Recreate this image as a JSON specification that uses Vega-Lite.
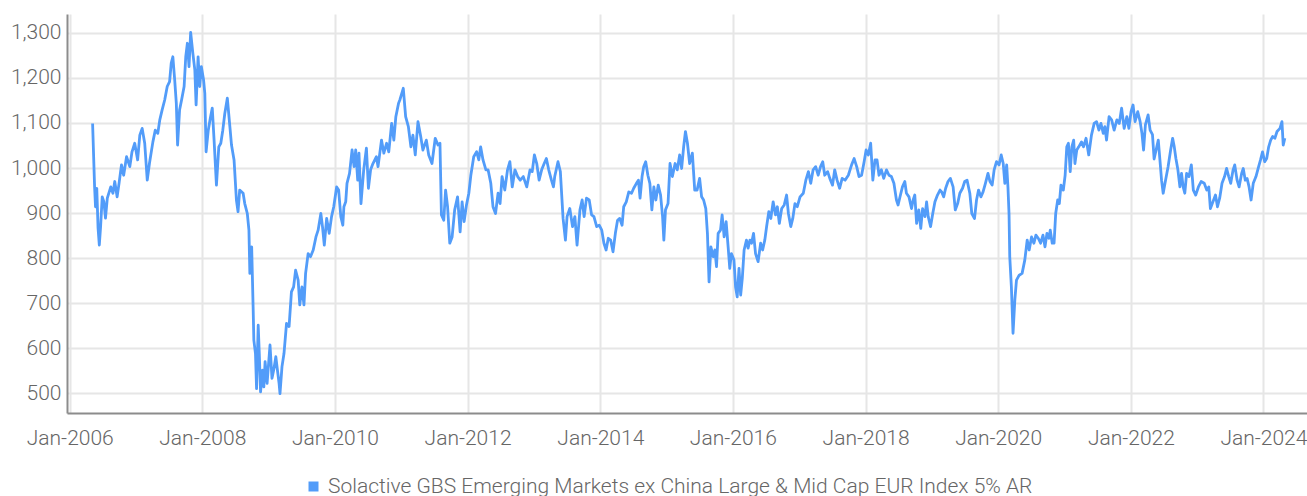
{
"$schema": "https://vega.github.io/schema/vega-lite/v6.json",
"width": 1240, "height": 399,
"autosize": {"type": "none"},
"padding": {"left": 67, "top": 14, "right": 0, "bottom": 83},
"background": "white",
"config": {"view": {"stroke": null}, "font": "Roboto"},
"data": {"values": [
{"date":"2006-05-07","value":1099},{"date":"2006-05-18","value":958},{"date":"2006-05-23","value":914},{"date":"2006-05-30","value":955},{"date":"2006-06-06","value":867},{"date":"2006-06-13","value":829},{"date":"2006-06-20","value":870},{"date":"2006-06-29","value":936},{"date":"2006-07-08","value":925},{"date":"2006-07-17","value":889},{"date":"2006-07-27","value":933},{"date":"2006-08-15","value":958},{"date":"2006-08-27","value":944},{"date":"2006-09-06","value":970},{"date":"2006-09-19","value":936},{"date":"2006-09-30","value":967},{"date":"2006-10-13","value":1007},{"date":"2006-10-25","value":984},{"date":"2006-11-10","value":1025},{"date":"2006-11-28","value":1003},{"date":"2006-12-10","value":1036},{"date":"2006-12-25","value":1055},
{"date":"2007-01-10","value":1018},{"date":"2007-01-22","value":1073},{"date":"2007-02-04","value":1088},{"date":"2007-02-18","value":1055},{"date":"2007-03-04","value":973},{"date":"2007-03-16","value":1010},{"date":"2007-04-04","value":1058},{"date":"2007-04-17","value":1084},{"date":"2007-05-01","value":1077},{"date":"2007-05-12","value":1107},{"date":"2007-05-25","value":1129},{"date":"2007-06-08","value":1151},{"date":"2007-06-22","value":1181},{"date":"2007-07-05","value":1192},{"date":"2007-07-14","value":1233},{"date":"2007-07-23","value":1247},{"date":"2007-08-02","value":1196},{"date":"2007-08-11","value":1144},{"date":"2007-08-18","value":1051},{"date":"2007-08-29","value":1129},{"date":"2007-09-09","value":1151},{"date":"2007-09-23","value":1181},{"date":"2007-10-02","value":1247},{"date":"2007-10-11","value":1277},{"date":"2007-10-20","value":1225},{"date":"2007-10-29","value":1301},{"date":"2007-11-10","value":1255},{"date":"2007-11-21","value":1218},{"date":"2007-11-28","value":1140},{"date":"2007-12-09","value":1247},{"date":"2007-12-18","value":1181},{"date":"2007-12-27","value":1225},
{"date":"2008-01-08","value":1196},{"date":"2008-01-15","value":1166},{"date":"2008-01-22","value":1036},{"date":"2008-02-03","value":1084},{"date":"2008-02-14","value":1110},{"date":"2008-02-25","value":1133},{"date":"2008-03-06","value":1062},{"date":"2008-03-19","value":962},{"date":"2008-04-01","value":1047},{"date":"2008-04-12","value":1055},{"date":"2008-04-23","value":1084},{"date":"2008-05-04","value":1121},{"date":"2008-05-18","value":1155},{"date":"2008-06-01","value":1092},{"date":"2008-06-10","value":1051},{"date":"2008-06-24","value":1018},{"date":"2008-07-07","value":929},{"date":"2008-07-16","value":903},{"date":"2008-07-25","value":951},{"date":"2008-08-13","value":944},{"date":"2008-08-22","value":921},{"date":"2008-09-05","value":899},{"date":"2008-09-14","value":862},{"date":"2008-09-19","value":766},{"date":"2008-09-29","value":825},{"date":"2008-10-07","value":692},{"date":"2008-10-11","value":618},{"date":"2008-10-20","value":588},{"date":"2008-10-26","value":510},{"date":"2008-11-04","value":651},{"date":"2008-11-10","value":588},{"date":"2008-11-17","value":503},{"date":"2008-11-28","value":551},{"date":"2008-12-05","value":514},{"date":"2008-12-12","value":570},{"date":"2008-12-23","value":522},
{"date":"2009-01-08","value":607},{"date":"2009-01-19","value":533},{"date":"2009-01-30","value":555},{"date":"2009-02-09","value":581},{"date":"2009-02-18","value":551},{"date":"2009-02-27","value":522},{"date":"2009-03-04","value":499},{"date":"2009-03-15","value":559},{"date":"2009-03-26","value":588},{"date":"2009-04-09","value":655},{"date":"2009-04-23","value":648},{"date":"2009-05-06","value":725},{"date":"2009-05-18","value":736},{"date":"2009-05-29","value":773},{"date":"2009-06-12","value":751},{"date":"2009-06-21","value":696},{"date":"2009-07-03","value":736},{"date":"2009-07-14","value":696},{"date":"2009-07-23","value":766},{"date":"2009-08-06","value":810},{"date":"2009-08-19","value":803},{"date":"2009-09-03","value":818},{"date":"2009-09-18","value":847},{"date":"2009-09-30","value":862},{"date":"2009-10-15","value":899},{"date":"2009-10-24","value":870},{"date":"2009-11-03","value":829},{"date":"2009-11-16","value":888},{"date":"2009-11-30","value":855},{"date":"2009-12-13","value":892},{"date":"2009-12-25","value":914},
{"date":"2010-01-10","value":958},{"date":"2010-01-21","value":951},{"date":"2010-02-02","value":892},{"date":"2010-02-13","value":873},{"date":"2010-02-19","value":914},{"date":"2010-03-01","value":925},{"date":"2010-03-08","value":966},{"date":"2010-03-22","value":988},{"date":"2010-04-05","value":1040},{"date":"2010-04-16","value":1003},{"date":"2010-04-25","value":1040},{"date":"2010-05-06","value":973},{"date":"2010-05-13","value":1033},{"date":"2010-05-24","value":921},{"date":"2010-06-08","value":996},{"date":"2010-06-23","value":1044},{"date":"2010-07-04","value":955},{"date":"2010-07-16","value":996},{"date":"2010-07-29","value":1010},{"date":"2010-08-17","value":1025},{"date":"2010-08-26","value":1003},{"date":"2010-09-14","value":1062},{"date":"2010-09-27","value":1033},{"date":"2010-10-12","value":1055},{"date":"2010-10-24","value":1036},{"date":"2010-11-09","value":1099},{"date":"2010-11-21","value":1062},{"date":"2010-12-02","value":1114},{"date":"2010-12-17","value":1144},{"date":"2010-12-24","value":1151},
{"date":"2011-01-12","value":1177},{"date":"2011-01-25","value":1114},{"date":"2011-02-09","value":1092},{"date":"2011-02-23","value":1047},{"date":"2011-03-06","value":1073},{"date":"2011-03-19","value":1029},{"date":"2011-04-03","value":1103},{"date":"2011-04-18","value":1070},{"date":"2011-04-30","value":1040},{"date":"2011-05-19","value":1062},{"date":"2011-06-01","value":1029},{"date":"2011-06-19","value":1010},{"date":"2011-07-07","value":1066},{"date":"2011-07-22","value":1051},{"date":"2011-08-02","value":1055},{"date":"2011-08-10","value":896},{"date":"2011-08-23","value":884},{"date":"2011-09-02","value":951},{"date":"2011-09-13","value":914},{"date":"2011-09-25","value":833},{"date":"2011-10-08","value":847},{"date":"2011-10-22","value":907},{"date":"2011-11-07","value":936},{"date":"2011-11-21","value":858},{"date":"2011-12-02","value":925},{"date":"2011-12-13","value":881},{"date":"2011-12-26","value":918},
{"date":"2012-01-08","value":944},{"date":"2012-01-19","value":984},{"date":"2012-02-04","value":1025},{"date":"2012-02-20","value":1036},{"date":"2012-03-03","value":1018},{"date":"2012-03-13","value":1047},{"date":"2012-03-26","value":1018},{"date":"2012-04-11","value":996},{"date":"2012-04-23","value":996},{"date":"2012-05-08","value":966},{"date":"2012-05-20","value":914},{"date":"2012-06-03","value":899},{"date":"2012-06-17","value":944},{"date":"2012-06-28","value":921},{"date":"2012-07-09","value":981},{"date":"2012-07-24","value":951},{"date":"2012-08-08","value":996},{"date":"2012-08-21","value":1014},{"date":"2012-09-03","value":958},{"date":"2012-09-18","value":996},{"date":"2012-10-03","value":981},{"date":"2012-10-17","value":973},{"date":"2012-11-03","value":981},{"date":"2012-11-22","value":958},{"date":"2012-12-10","value":996},{"date":"2012-12-22","value":992},
{"date":"2013-01-03","value":1029},{"date":"2013-01-16","value":1010},{"date":"2013-01-29","value":973},{"date":"2013-02-12","value":996},{"date":"2013-02-26","value":1010},{"date":"2013-03-10","value":1021},{"date":"2013-03-23","value":996},{"date":"2013-04-07","value":973},{"date":"2013-04-18","value":958},{"date":"2013-04-25","value":981},{"date":"2013-05-13","value":1014},{"date":"2013-05-26","value":992},{"date":"2013-06-10","value":888},{"date":"2013-06-23","value":840},{"date":"2013-07-02","value":892},{"date":"2013-07-17","value":910},{"date":"2013-08-01","value":870},{"date":"2013-08-14","value":892},{"date":"2013-08-26","value":829},{"date":"2013-09-11","value":907},{"date":"2013-09-23","value":929},{"date":"2013-10-04","value":892},{"date":"2013-10-17","value":933},{"date":"2013-11-01","value":929},{"date":"2013-11-14","value":896},{"date":"2013-11-27","value":892},{"date":"2013-12-12","value":870},{"date":"2013-12-26","value":873},
{"date":"2014-01-09","value":862},{"date":"2014-01-21","value":833},{"date":"2014-02-02","value":818},{"date":"2014-02-14","value":844},{"date":"2014-02-27","value":840},{"date":"2014-03-12","value":814},{"date":"2014-03-25","value":855},{"date":"2014-04-06","value":884},{"date":"2014-04-18","value":888},{"date":"2014-05-01","value":873},{"date":"2014-05-10","value":914},{"date":"2014-05-24","value":925},{"date":"2014-06-07","value":947},{"date":"2014-06-22","value":944},{"date":"2014-07-04","value":955},{"date":"2014-07-19","value":966},{"date":"2014-07-30","value":973},{"date":"2014-08-08","value":933},{"date":"2014-08-19","value":981},{"date":"2014-08-28","value":1003},{"date":"2014-09-08","value":1014},{"date":"2014-09-20","value":984},{"date":"2014-10-01","value":966},{"date":"2014-10-12","value":907},{"date":"2014-10-23","value":958},{"date":"2014-11-03","value":929},{"date":"2014-11-16","value":962},{"date":"2014-11-29","value":940},{"date":"2014-12-10","value":892},{"date":"2014-12-17","value":840},{"date":"2014-12-26","value":907},
{"date":"2015-01-09","value":921},{"date":"2015-01-20","value":1010},{"date":"2015-02-02","value":981},{"date":"2015-02-17","value":1010},{"date":"2015-03-01","value":996},{"date":"2015-03-14","value":1029},{"date":"2015-03-25","value":999},{"date":"2015-04-05","value":1047},{"date":"2015-04-15","value":1081},{"date":"2015-04-26","value":1055},{"date":"2015-05-08","value":1010},{"date":"2015-05-23","value":1033},{"date":"2015-06-05","value":951},{"date":"2015-06-18","value":951},{"date":"2015-07-02","value":977},{"date":"2015-07-13","value":936},{"date":"2015-07-24","value":929},{"date":"2015-08-05","value":910},{"date":"2015-08-14","value":855},{"date":"2015-08-23","value":747},{"date":"2015-09-02","value":825},{"date":"2015-09-15","value":803},{"date":"2015-09-24","value":818},{"date":"2015-10-03","value":781},{"date":"2015-10-12","value":855},{"date":"2015-10-25","value":862},{"date":"2015-11-03","value":896},{"date":"2015-11-14","value":847},{"date":"2015-11-25","value":881},{"date":"2015-12-06","value":825},{"date":"2015-12-15","value":777},{"date":"2015-12-24","value":810},
{"date":"2016-01-07","value":796},{"date":"2016-01-16","value":736},{"date":"2016-01-25","value":714},{"date":"2016-02-04","value":777},{"date":"2016-02-13","value":718},{"date":"2016-02-22","value":755},{"date":"2016-03-03","value":818},{"date":"2016-03-16","value":840},{"date":"2016-03-25","value":822},{"date":"2016-04-04","value":840},{"date":"2016-04-13","value":833},{"date":"2016-04-24","value":855},{"date":"2016-05-05","value":810},{"date":"2016-05-19","value":792},{"date":"2016-06-02","value":833},{"date":"2016-06-13","value":818},{"date":"2016-06-25","value":840},{"date":"2016-07-05","value":870},{"date":"2016-07-17","value":903},{"date":"2016-07-28","value":888},{"date":"2016-08-10","value":925},{"date":"2016-08-23","value":896},{"date":"2016-09-02","value":914},{"date":"2016-09-13","value":877},{"date":"2016-09-26","value":910},{"date":"2016-10-10","value":918},{"date":"2016-10-23","value":940},{"date":"2016-11-02","value":899},{"date":"2016-11-15","value":870},{"date":"2016-11-26","value":888},{"date":"2016-12-08","value":921},{"date":"2016-12-21","value":914},
{"date":"2017-01-05","value":936},{"date":"2017-01-23","value":944},{"date":"2017-02-06","value":973},{"date":"2017-02-20","value":992},{"date":"2017-03-05","value":966},{"date":"2017-03-18","value":996},{"date":"2017-04-01","value":1003},{"date":"2017-04-15","value":984},{"date":"2017-04-28","value":1003},{"date":"2017-05-10","value":1014},{"date":"2017-05-21","value":984},{"date":"2017-06-06","value":992},{"date":"2017-06-18","value":977},{"date":"2017-07-03","value":962},{"date":"2017-07-15","value":996},{"date":"2017-07-28","value":973},{"date":"2017-08-11","value":955},{"date":"2017-08-25","value":977},{"date":"2017-09-10","value":973},{"date":"2017-09-28","value":984},{"date":"2017-10-16","value":1007},{"date":"2017-10-30","value":1021},{"date":"2017-11-13","value":1003},{"date":"2017-11-26","value":981},{"date":"2017-12-10","value":984},{"date":"2017-12-24","value":1014},
{"date":"2018-01-04","value":1040},{"date":"2018-01-16","value":1029},{"date":"2018-01-29","value":1055},{"date":"2018-02-10","value":973},{"date":"2018-02-22","value":1018},{"date":"2018-03-05","value":1018},{"date":"2018-03-16","value":984},{"date":"2018-03-29","value":996},{"date":"2018-04-11","value":977},{"date":"2018-04-26","value":996},{"date":"2018-05-10","value":984},{"date":"2018-05-23","value":981},{"date":"2018-06-06","value":966},{"date":"2018-06-20","value":929},{"date":"2018-06-29","value":918},{"date":"2018-07-12","value":940},{"date":"2018-07-23","value":958},{"date":"2018-08-05","value":970},{"date":"2018-08-14","value":944},{"date":"2018-08-28","value":936},{"date":"2018-09-11","value":910},{"date":"2018-09-20","value":929},{"date":"2018-09-29","value":940},{"date":"2018-10-09","value":877},{"date":"2018-10-21","value":907},{"date":"2018-11-01","value":866},{"date":"2018-11-11","value":910},{"date":"2018-11-24","value":892},{"date":"2018-12-03","value":925},{"date":"2018-12-12","value":892},{"date":"2018-12-25","value":870},
{"date":"2019-01-06","value":899},{"date":"2019-01-18","value":925},{"date":"2019-02-01","value":940},{"date":"2019-02-15","value":951},{"date":"2019-02-24","value":947},{"date":"2019-03-07","value":936},{"date":"2019-03-18","value":955},{"date":"2019-03-31","value":970},{"date":"2019-04-13","value":977},{"date":"2019-04-28","value":958},{"date":"2019-05-10","value":907},{"date":"2019-05-23","value":921},{"date":"2019-06-04","value":944},{"date":"2019-06-19","value":955},{"date":"2019-07-01","value":970},{"date":"2019-07-14","value":973},{"date":"2019-07-29","value":944},{"date":"2019-08-09","value":899},{"date":"2019-08-24","value":888},{"date":"2019-09-04","value":929},{"date":"2019-09-15","value":951},{"date":"2019-09-28","value":936},{"date":"2019-10-10","value":947},{"date":"2019-10-23","value":966},{"date":"2019-11-06","value":988},{"date":"2019-11-17","value":970},{"date":"2019-11-29","value":962},{"date":"2019-12-10","value":996},{"date":"2019-12-23","value":1014},
{"date":"2020-01-06","value":1007},{"date":"2020-01-18","value":1029},{"date":"2020-01-29","value":1010},{"date":"2020-02-07","value":966},{"date":"2020-02-17","value":1007},{"date":"2020-02-24","value":958},{"date":"2020-03-01","value":899},{"date":"2020-03-05","value":803},{"date":"2020-03-14","value":736},{"date":"2020-03-23","value":633},{"date":"2020-04-02","value":707},{"date":"2020-04-11","value":751},{"date":"2020-04-26","value":762},{"date":"2020-05-12","value":766},{"date":"2020-05-27","value":796},{"date":"2020-06-09","value":840},{"date":"2020-06-20","value":818},{"date":"2020-07-03","value":847},{"date":"2020-07-16","value":833},{"date":"2020-07-27","value":851},{"date":"2020-08-09","value":844},{"date":"2020-08-22","value":833},{"date":"2020-09-04","value":851},{"date":"2020-09-15","value":825},{"date":"2020-09-26","value":855},{"date":"2020-10-07","value":844},{"date":"2020-10-14","value":862},{"date":"2020-10-25","value":833},{"date":"2020-11-04","value":833},{"date":"2020-11-13","value":899},{"date":"2020-11-24","value":929},{"date":"2020-12-03","value":921},{"date":"2020-12-12","value":962},{"date":"2020-12-25","value":951},
{"date":"2021-01-04","value":984},{"date":"2021-01-13","value":1047},{"date":"2021-01-22","value":1055},{"date":"2021-02-01","value":992},{"date":"2021-02-10","value":1047},{"date":"2021-02-20","value":1062},{"date":"2021-02-27","value":1010},{"date":"2021-03-09","value":1040},{"date":"2021-03-20","value":1047},{"date":"2021-04-04","value":1058},{"date":"2021-04-15","value":1047},{"date":"2021-04-29","value":1066},{"date":"2021-05-14","value":1029},{"date":"2021-05-29","value":1073},{"date":"2021-06-13","value":1099},{"date":"2021-06-26","value":1103},{"date":"2021-07-09","value":1084},{"date":"2021-07-20","value":1099},{"date":"2021-08-02","value":1077},{"date":"2021-08-11","value":1092},{"date":"2021-08-20","value":1062},{"date":"2021-09-03","value":1114},{"date":"2021-09-17","value":1107},{"date":"2021-10-01","value":1084},{"date":"2021-10-16","value":1107},{"date":"2021-10-29","value":1099},{"date":"2021-11-11","value":1133},{"date":"2021-11-25","value":1088},{"date":"2021-12-10","value":1114},{"date":"2021-12-21","value":1088},
{"date":"2022-01-02","value":1125},{"date":"2022-01-13","value":1140},{"date":"2022-01-24","value":1103},{"date":"2022-02-08","value":1125},{"date":"2022-02-21","value":1103},{"date":"2022-03-03","value":1077},{"date":"2022-03-12","value":1040},{"date":"2022-03-22","value":1096},{"date":"2022-04-06","value":1118},{"date":"2022-04-17","value":1084},{"date":"2022-04-30","value":1074},{"date":"2022-05-09","value":1020},{"date":"2022-05-22","value":1044},{"date":"2022-06-01","value":1062},{"date":"2022-06-10","value":1018},{"date":"2022-06-19","value":973},{"date":"2022-06-28","value":944},{"date":"2022-07-11","value":973},{"date":"2022-07-25","value":1003},{"date":"2022-08-08","value":1040},{"date":"2022-08-19","value":1066},{"date":"2022-08-28","value":1047},{"date":"2022-09-06","value":1021},{"date":"2022-09-17","value":996},{"date":"2022-09-28","value":958},{"date":"2022-10-07","value":988},{"date":"2022-10-16","value":958},{"date":"2022-10-25","value":944},{"date":"2022-11-04","value":988},{"date":"2022-11-17","value":981},{"date":"2022-11-30","value":1007},{"date":"2022-12-11","value":951},{"date":"2022-12-24","value":940},
{"date":"2023-01-08","value":958},{"date":"2023-01-23","value":970},{"date":"2023-02-09","value":966},{"date":"2023-02-23","value":951},{"date":"2023-03-06","value":958},{"date":"2023-03-15","value":910},{"date":"2023-03-29","value":925},{"date":"2023-04-12","value":940},{"date":"2023-04-23","value":914},{"date":"2023-05-05","value":933},{"date":"2023-05-18","value":966},{"date":"2023-06-01","value":981},{"date":"2023-06-12","value":999},{"date":"2023-06-24","value":981},{"date":"2023-07-05","value":966},{"date":"2023-07-18","value":996},{"date":"2023-07-27","value":1007},{"date":"2023-08-09","value":973},{"date":"2023-08-20","value":958},{"date":"2023-09-03","value":988},{"date":"2023-09-12","value":999},{"date":"2023-09-23","value":973},{"date":"2023-10-03","value":977},{"date":"2023-10-14","value":958},{"date":"2023-10-25","value":929},{"date":"2023-11-06","value":966},{"date":"2023-11-21","value":981},{"date":"2023-12-03","value":999},{"date":"2023-12-16","value":1018},{"date":"2023-12-27","value":1036},
{"date":"2024-01-08","value":1014},{"date":"2024-01-19","value":1021},{"date":"2024-01-30","value":1047},{"date":"2024-02-10","value":1062},{"date":"2024-02-21","value":1070},{"date":"2024-03-04","value":1066},{"date":"2024-03-16","value":1081},{"date":"2024-04-01","value":1088},{"date":"2024-04-12","value":1103},{"date":"2024-04-19","value":1051},{"date":"2024-04-28","value":1066}
]},
"mark": {"type": "line", "strokeWidth": 2.8, "strokeJoin": "round"},
"encoding": {
  "x": {"field": "date", "type": "temporal",
        "scale": {"type": "utc", "domain": ["2005-12-17", "2024-08-28"]},
        "axis": {"title": null, "format": "%b-%Y", "tickCount": {"interval": "year", "step": 2},
                 "grid": true, "gridColor": "#e6e6e6", "gridWidth": 2,
                 "domainColor": "#8c8c8c", "domainWidth": 2, "ticks": false,
                 "labelPadding": 14, "labelFontSize": 21, "labelColor": "#666666",
                 "labelFont": "Roboto", "labelFontWeight": 300, "labelFlush": false, "labelOverlap": false}},
  "y": {"field": "value", "type": "quantitative",
        "scale": {"domain": [456, 1342], "nice": false, "zero": false},
        "axis": {"title": null, "values": [500, 600, 700, 800, 900, 1000, 1100, 1200, 1300], "format": ",.0f",
                 "grid": true, "gridColor": "#e6e6e6", "gridWidth": 2,
                 "domainColor": "#8c8c8c", "domainWidth": 2, "ticks": false,
                 "labelPadding": 6, "labelFontSize": 21, "labelColor": "#666666",
                 "labelFont": "Roboto", "labelFontWeight": 300}},
  "color": {"datum": "Solactive GBS Emerging Markets ex China Large & Mid Cap EUR Index 5% AR",
            "scale": {"range": ["#529cf9"]},
            "legend": {"title": null, "orient": "none", "legendX": 236, "legendY": 462,
                       "symbolType": "square", "symbolSize": 100, "labelFontSize": 21,
                       "labelColor": "#666666", "labelFont": "Roboto", "labelFontWeight": 300,
                       "labelLimit": 1200, "labelOffset": 4, "padding": 0,
                       "encode": {"symbols": {"update": {"fill": {"value": "#529cf9"}, "stroke": {"value": "#529cf9"}, "strokeWidth": {"value": 0}}}}}}
}
}
